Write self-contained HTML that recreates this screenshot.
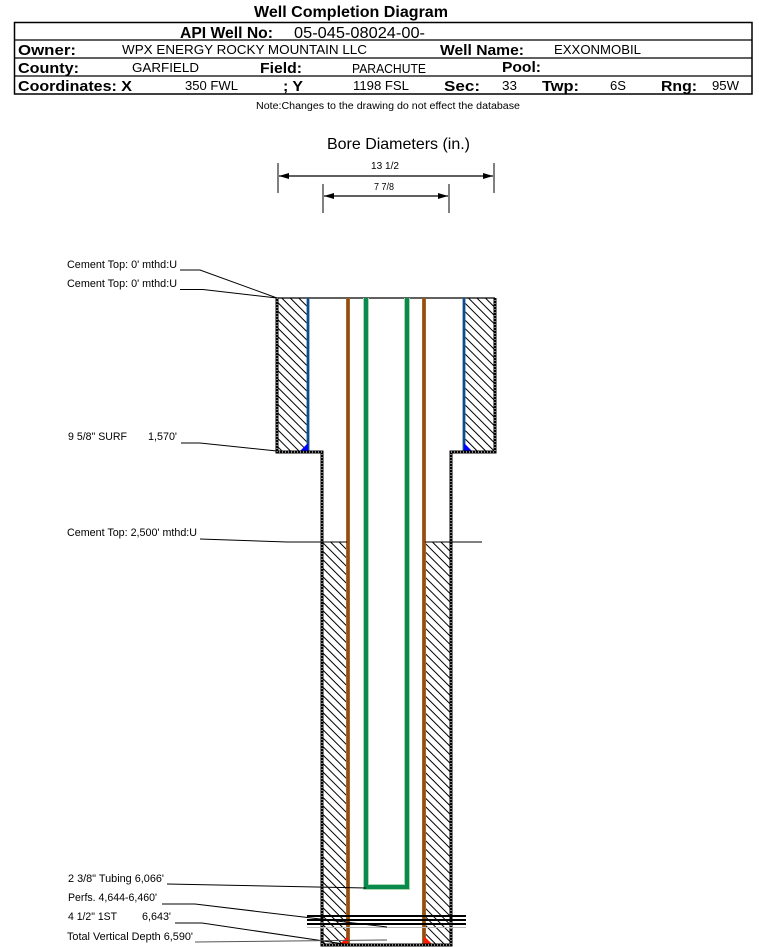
<!DOCTYPE html>
<html>
<head>
<meta charset="utf-8">
<style>
  html,body{margin:0;padding:0;background:#fff;}
  svg{display:block;}
  text{font-family:"Liberation Sans", Arial, sans-serif;fill:#000;}
  .b{font-weight:bold;}
</style>
</head>
<body>
<svg width="759" height="947" viewBox="0 0 759 947" xmlns="http://www.w3.org/2000/svg">
  <defs>
    <pattern id="hatch" width="6" height="6" patternUnits="userSpaceOnUse" patternTransform="rotate(-45)">
      <rect width="6" height="6" fill="#fff"/>
      <line x1="0.5" y1="0" x2="0.5" y2="6" stroke="#000" stroke-width="1"/>
    </pattern>
    <marker id="arr" viewBox="0 0 10 6" refX="10" refY="3" markerWidth="10" markerHeight="6" markerUnits="userSpaceOnUse" orient="auto-start-reverse">
      <path d="M0,0 L10,3 L0,6 z" fill="#000"/>
    </marker>
  </defs>

  <!-- Title -->
  <text x="254" y="17" class="b" font-size="16" textLength="194" lengthAdjust="spacingAndGlyphs">Well Completion Diagram</text>

  <!-- Header table -->
  <rect x="14.5" y="22.5" width="737.5" height="71.5" fill="none" stroke="#000" stroke-width="1.5"/>
  <line x1="14.5" y1="40" x2="752" y2="40" stroke="#000" stroke-width="1.3"/>
  <line x1="14.5" y1="58" x2="752" y2="58" stroke="#000" stroke-width="1.3"/>
  <line x1="14.5" y1="76" x2="752" y2="76" stroke="#000" stroke-width="1.3"/>

  <text x="180" y="38" class="b" font-size="16" textLength="93" lengthAdjust="spacingAndGlyphs">API Well No:</text>
  <text x="294" y="38" font-size="16" textLength="131" lengthAdjust="spacingAndGlyphs">05-045-08024-00-</text>

  <text x="18" y="55" class="b" font-size="15" textLength="58" lengthAdjust="spacingAndGlyphs">Owner:</text>
  <text x="122" y="54" font-size="13" textLength="245" lengthAdjust="spacingAndGlyphs">WPX ENERGY ROCKY MOUNTAIN LLC</text>
  <text x="440" y="55" class="b" font-size="15" textLength="84" lengthAdjust="spacingAndGlyphs">Well Name:</text>
  <text x="554" y="54" font-size="13" textLength="87" lengthAdjust="spacingAndGlyphs">EXXONMOBIL</text>

  <text x="18" y="73" class="b" font-size="15" textLength="61" lengthAdjust="spacingAndGlyphs">County:</text>
  <text x="132" y="72" font-size="13" textLength="67" lengthAdjust="spacingAndGlyphs">GARFIELD</text>
  <text x="260" y="73" class="b" font-size="15" textLength="42" lengthAdjust="spacingAndGlyphs">Field:</text>
  <text x="352" y="73" font-size="12.5" textLength="74" lengthAdjust="spacingAndGlyphs">PARACHUTE</text>
  <text x="502" y="72" class="b" font-size="15" textLength="39" lengthAdjust="spacingAndGlyphs">Pool:</text>

  <text x="18" y="91" class="b" font-size="15" textLength="114" lengthAdjust="spacingAndGlyphs">Coordinates: X</text>
  <text x="185" y="90" font-size="13" textLength="53" lengthAdjust="spacingAndGlyphs">350 FWL</text>
  <text x="283" y="91" class="b" font-size="15" textLength="20" lengthAdjust="spacingAndGlyphs">; Y</text>
  <text x="353" y="90" font-size="13" textLength="56" lengthAdjust="spacingAndGlyphs">1198 FSL</text>
  <text x="444" y="91" class="b" font-size="15" textLength="36" lengthAdjust="spacingAndGlyphs">Sec:</text>
  <text x="502" y="90" font-size="13" textLength="15" lengthAdjust="spacingAndGlyphs">33</text>
  <text x="542" y="91" class="b" font-size="15" textLength="37" lengthAdjust="spacingAndGlyphs">Twp:</text>
  <text x="610" y="90" font-size="13" textLength="16" lengthAdjust="spacingAndGlyphs">6S</text>
  <text x="661" y="91" class="b" font-size="15" textLength="36" lengthAdjust="spacingAndGlyphs">Rng:</text>
  <text x="712" y="90" font-size="13" textLength="27" lengthAdjust="spacingAndGlyphs">95W</text>

  <text x="256" y="109" font-size="10" textLength="264" lengthAdjust="spacingAndGlyphs">Note:Changes to the drawing do not effect the database</text>

  <!-- Bore diameters -->
  <text x="327" y="149" font-size="16" textLength="143" lengthAdjust="spacingAndGlyphs">Bore Diameters (in.)</text>
  <text x="371" y="169" font-size="10" textLength="28" lengthAdjust="spacingAndGlyphs">13 1/2</text>
  <text x="374" y="190" font-size="10" textLength="20" lengthAdjust="spacingAndGlyphs">7 7/8</text>
  <line x1="278" y1="163" x2="278" y2="193" stroke="#000" stroke-width="1"/>
  <line x1="494" y1="163" x2="494" y2="193" stroke="#000" stroke-width="1"/>
  <line x1="279" y1="176" x2="493" y2="176" stroke="#000" stroke-width="1.2" marker-start="url(#arr)" marker-end="url(#arr)"/>
  <line x1="323" y1="184" x2="323" y2="213" stroke="#000" stroke-width="1"/>
  <line x1="449" y1="184" x2="449" y2="213" stroke="#000" stroke-width="1"/>
  <line x1="324" y1="196" x2="448" y2="196" stroke="#000" stroke-width="1.2" marker-start="url(#arr)" marker-end="url(#arr)"/>

  <!-- Cement hatching -->
  <rect x="278.5" y="298.5" width="29" height="152" fill="url(#hatch)"/>
  <rect x="465" y="298.5" width="28.5" height="152" fill="url(#hatch)"/>
  <rect x="323.5" y="542" width="23.5" height="401.5" fill="url(#hatch)"/>
  <rect x="425.5" y="542" width="24" height="401.5" fill="url(#hatch)"/>

  <!-- Top line -->
  <line x1="277" y1="298" x2="495" y2="298" stroke="#000" stroke-width="1.3"/>

  <!-- Surface casing (blue) -->
  <line x1="308" y1="298" x2="308" y2="452" stroke="#2b8a5a" stroke-width="3"/>
  <line x1="308" y1="298" x2="308" y2="452" stroke="#1438c0" stroke-width="1.8"/>
  <line x1="464" y1="298" x2="464" y2="452" stroke="#2b8a5a" stroke-width="3"/>
  <line x1="464" y1="298" x2="464" y2="452" stroke="#1438c0" stroke-width="1.8"/>
  <polygon points="308,443 308,451 300,451" fill="#0000ff"/>
  <polygon points="464,443 464,451 472,451" fill="#0000ff"/>

  <!-- Production casing (red) -->
  <line x1="348" y1="298" x2="348" y2="944" stroke="#3a9a3a" stroke-width="4"/>
  <line x1="348" y1="298" x2="348" y2="944" stroke="#ff1a00" stroke-width="2"/>
  <line x1="424" y1="298" x2="424" y2="944" stroke="#3a9a3a" stroke-width="4"/>
  <line x1="424" y1="298" x2="424" y2="944" stroke="#ff1a00" stroke-width="2"/>
  <polygon points="349,935 349,944 340,944" fill="#ff1a00"/>
  <polygon points="423,935 423,944 432,944" fill="#ff1a00"/>

  <!-- Tubing (green) -->
  <path d="M366,298 V887 H407 V298" fill="none" stroke="#a8d8a8" stroke-width="6"/>
  <path d="M366,298 V887 H407 V298" fill="none" stroke="#0b8a50" stroke-width="4"/>

  <!-- Hole outline (dotted thick) -->
  <path d="M277,298 V452 H322 V945 H451 V452 H495 V298" fill="none" stroke="#000" stroke-width="3"/>
  <path d="M277,298 V452 H322 V945 H451 V452 H495 V298" fill="none" stroke="#fff" stroke-width="1" stroke-dasharray="1,2"/>

  <!-- Perforations -->
  <line x1="307" y1="916" x2="466" y2="916" stroke="#000" stroke-width="2"/>
  <line x1="307" y1="920" x2="466" y2="920" stroke="#000" stroke-width="2"/>
  <line x1="307" y1="924" x2="466" y2="924" stroke="#000" stroke-width="2"/>
  <line x1="307" y1="927.5" x2="466" y2="927.5" stroke="#bbb" stroke-width="1"/>

  <!-- Leader labels -->
  <g font-size="11">
    <text x="67" y="268" textLength="110" lengthAdjust="spacingAndGlyphs">Cement Top: 0' mthd:U</text>
    <text x="67" y="287" textLength="110" lengthAdjust="spacingAndGlyphs">Cement Top: 0' mthd:U</text>
    <text x="68" y="440" textLength="59" lengthAdjust="spacingAndGlyphs">9 5/8" SURF</text>
    <text x="148" y="440" textLength="29" lengthAdjust="spacingAndGlyphs">1,570'</text>
    <text x="67" y="536" textLength="130" lengthAdjust="spacingAndGlyphs">Cement Top: 2,500' mthd:U</text>
    <text x="68" y="882" textLength="96" lengthAdjust="spacingAndGlyphs">2 3/8" Tubing 6,066'</text>
    <text x="68" y="901" textLength="89" lengthAdjust="spacingAndGlyphs">Perfs. 4,644-6,460'</text>
    <text x="68" y="920" textLength="49" lengthAdjust="spacingAndGlyphs">4 1/2" 1ST</text>
    <text x="142" y="920" textLength="29" lengthAdjust="spacingAndGlyphs">6,643'</text>
    <text x="67" y="940" textLength="126" lengthAdjust="spacingAndGlyphs">Total Vertical Depth 6,590'</text>
  </g>
  <g fill="none" stroke="#000" stroke-width="1">
    <polyline points="180,270 200,270 277,298"/>
    <polyline points="180,289.5 203,289.5 277,298"/>
    <polyline points="181,443 200,443 277,451"/>
    <polyline points="200,539 287,542 347,542"/>
    <line x1="425" y1="542" x2="482" y2="542"/>
    <line x1="167" y1="884" x2="366" y2="888"/>
    <polyline points="162,904 195,904 387,927"/>
    <polyline points="175,923 202,923 344,944"/>
    <line x1="195" y1="942" x2="387" y2="940" stroke="#555"/>
  </g>
</svg>
</body>
</html>
